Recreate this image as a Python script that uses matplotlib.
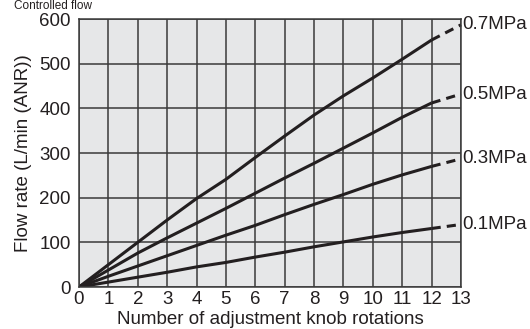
import matplotlib
matplotlib.use("Agg")
import matplotlib.pyplot as plt

plt.rcParams['font.family'] = ['Liberation Sans', 'DejaVu Sans']

rotations = [0, 1, 2, 3, 4, 5, 6, 7, 8, 9, 10, 11, 12]
flow_07 = [0, 50, 100, 150, 198, 241, 290, 338, 385, 428, 468, 510, 553]
flow_05 = [0, 38, 76, 110, 143, 176, 210, 244, 277, 311, 345, 380, 412]
flow_03 = [0, 24, 47, 70, 93, 116, 138, 162, 185, 207, 230, 251, 270]
flow_01 = [0, 11, 22, 33, 45, 55, 67, 78, 90, 101, 112, 122, 131]
ext_x = [12, 13]
ext_07 = [553, 587]
ext_05 = [412, 432]
ext_03 = [270, 287]
ext_01 = [131, 140]
labels = ['0.7MPa', '0.5MPa', '0.3MPa', '0.1MPa']
xticks = list(range(0, 14))
yticks = [0, 100, 200, 300, 400, 500, 600]

FS = 13.5
fig = plt.figure(figsize=(5.30, 3.29), dpi=100)
ax = fig.add_axes([79/530, 1 - 287/329, (461 - 79)/530, (287 - 19)/329])
ax.set_facecolor('#e6e7e8')
ax.set_xlim(0, 13)
ax.set_ylim(0, 600)
ax.set_xticks(xticks)
ax.set_yticks(yticks)
ax.grid(True, color='#3a3a3a', linewidth=1.1)
ax.set_axisbelow(True)
for s in ax.spines.values():
    s.set_color('#3a3a3a')
    s.set_linewidth(1.1)
ax.tick_params(length=0, labelsize=FS, colors='#231f20')
ax.tick_params(axis='y', pad=6)
ax.tick_params(axis='x', pad=3)

series = [flow_07, flow_05, flow_03, flow_01]
exts = [ext_07, ext_05, ext_03, ext_01]
for ys, ex, lab in zip(series, exts, labels):
    ax.plot(rotations, ys, color='#231f20', linewidth=2.2, solid_capstyle='butt')
    ax.plot(ext_x, ex, color='#231f20', linewidth=2.2, linestyle=(0, (3, 2)), clip_on=False)
    ax.annotate(lab, xy=(ext_x[-1], ex[-1]), xytext=(1, 0), textcoords='offset points',
                va='center', ha='left', fontsize=FS, color='#231f20', annotation_clip=False)

ax.set_xlabel('Number of adjustment knob rotations', fontsize=FS, color='#231f20', labelpad=2)
ax.set_ylabel('Flow rate (L/min (ANR))', fontsize=FS, color='#231f20', labelpad=5)
fig.text(14/530, 1.0, 'Controlled flow', fontsize=8.5, color='#231f20', va='top', ha='left')

fig.savefig('out.png', dpi=100)
